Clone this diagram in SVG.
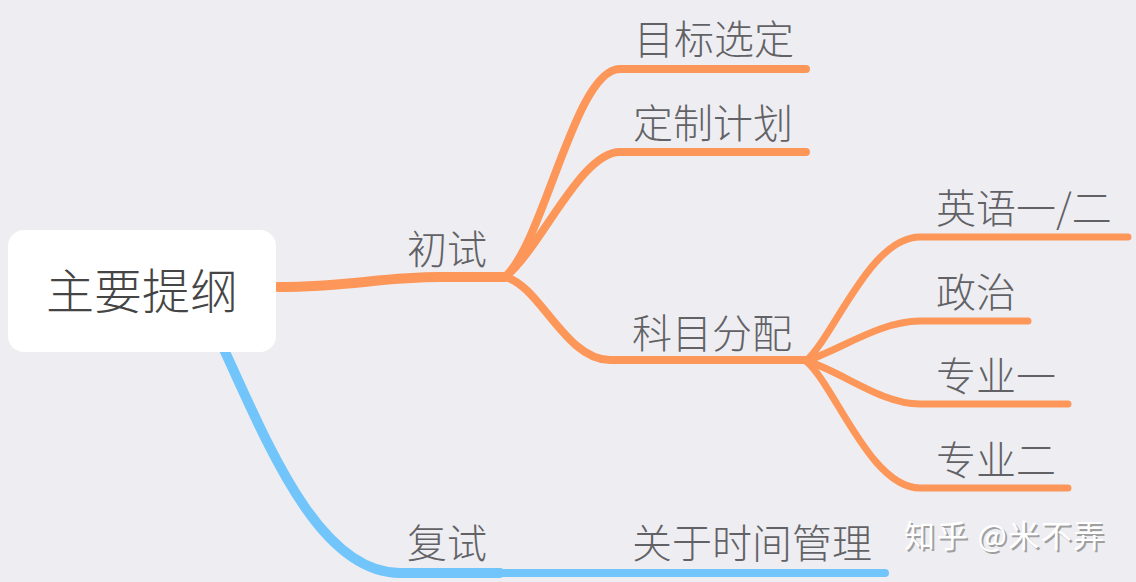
<svg xmlns="http://www.w3.org/2000/svg" width="1136" height="582" viewBox="0 0 1136 582">
  <style>
    .lbl { font-family: "Noto Sans CJK SC", "Noto Sans", sans-serif; font-size: 40px; font-weight: 300; fill: #626266; }
    .root { font-family: "Noto Sans CJK SC", "Noto Sans", sans-serif; font-size: 48px; font-weight: 300; fill: #454545; }
    .o { fill: none; stroke: #fd9659; stroke-linecap: round; }
    .b { fill: none; stroke: #72c5fa; stroke-linecap: round; }
    .wm { font-family: "Noto Sans CJK SC", "Noto Sans", sans-serif; font-size: 31px; letter-spacing: 1.5px; }
  </style>
  <rect width="1136" height="582" fill="#eeeef2"/>
  <g id="connectors">
    <path class="o" stroke-width="10" d="M278 287 C 350 287, 380 277, 440 277 L 505 277"/>
    <path class="o" stroke-width="8" d="M505 277 C 545 240, 575 69, 620 69 L 806 69"/>
    <path class="o" stroke-width="8" d="M505 277 C 540 250, 580 152, 620 152 L 806 152"/>
    <path class="o" stroke-width="8" d="M505 277 C 540 285, 565 360, 610 360 L 808 360"/>
    <path class="o" stroke-width="7" d="M806 361 C 835 335, 870 237, 920 237 L 1128 237"/>
    <path class="o" stroke-width="7" d="M806 361 C 840 350, 880 321, 920 321 L 1028 321"/>
    <path class="o" stroke-width="7" d="M806 361 C 840 370, 880 404, 920 404 L 1068 404"/>
    <path class="o" stroke-width="7" d="M806 361 C 835 385, 870 488, 920 488 L 1068 488"/>
    <path class="b" stroke-width="10" d="M222 345 C 270 450, 320 573, 400 573 L 500 573"/>
    <path class="b" stroke-width="8" d="M500 573 L 885 573"/>
  </g>
  <g id="root">
    <rect x="8" y="230" width="268" height="122" rx="16" fill="#ffffff"/>
    <text class="root" x="142" y="309" text-anchor="middle">主要提纲</text>
  </g>
  <g id="n-chushi"><text class="lbl" x="407" y="264">初试</text></g>
  <g id="n-mubiao"><text class="lbl" x="634" y="54">目标选定</text></g>
  <g id="n-dingzhi"><text class="lbl" x="633" y="138">定制计划</text></g>
  <g id="n-kemu"><text class="lbl" x="632" y="348">科目分配</text></g>
  <g id="n-yingyu"><text class="lbl" x="936" y="223">英语一/二</text></g>
  <g id="n-zhengzhi"><text class="lbl" x="936" y="307">政治</text></g>
  <g id="n-zhuanye1"><text class="lbl" x="936" y="391">专业一</text></g>
  <g id="n-zhuanye2"><text class="lbl" x="936" y="475">专业二</text></g>
  <g id="n-fushi"><text class="lbl" x="407" y="558">复试</text></g>
  <g id="n-shijian"><text class="lbl" x="632" y="558">关于时间管理</text></g>
  <g id="watermark">
    <text class="wm" x="906" y="549" fill="#a0a0a0">知乎 @米不弄</text>
    <text class="wm" x="904" y="547" fill="#ffffff">知乎 @米不弄</text>
  </g>
</svg>
